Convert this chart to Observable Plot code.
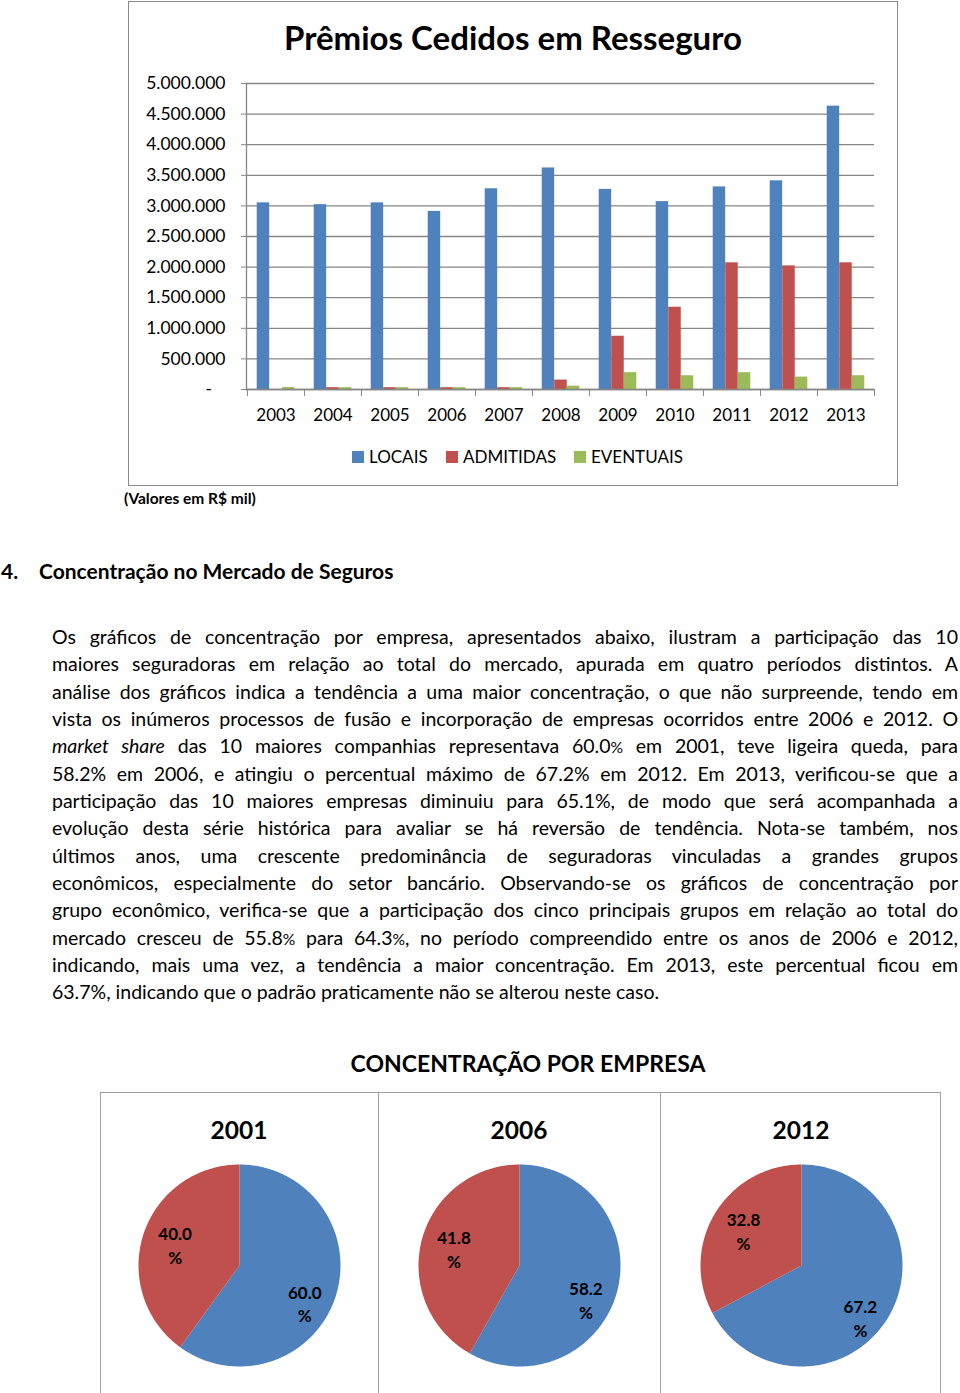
<!DOCTYPE html>
<html><head><meta charset="utf-8">
<script src="https://cdn.jsdelivr.net/npm/d3@7"></script>
<script src="https://cdn.jsdelivr.net/npm/@observablehq/plot@0.6"></script>
<style>
html,body{margin:0;padding:0;background:#fff;}
#page{position:relative;width:960px;height:1393px;overflow:hidden;font-family:Lato,"Open Sans",sans-serif;color:#000;}
.abs{position:absolute;}
#chartbox{left:128px;top:1px;width:770px;height:485px;border:1.5px solid #8a8a8a;box-sizing:border-box;}
#title{left:128px;width:770px;top:16px;text-align:center;font-weight:bold;font-size:33px;line-height:42px;}
.leg{top:447px;font-size:17px;line-height:20px;display:flex;align-items:center;}
.sw{width:12px;height:12px;margin-right:5px;display:inline-block;}
#valores{left:124px;top:488px;font-size:15.5px;font-weight:bold;line-height:20px;}
#sec{left:0;top:558px;font-size:21px;font-weight:bold;line-height:26px;white-space:nowrap;}
#body{left:52px;top:623px;width:906px;}
.ln{height:27.35px;line-height:27.35px;text-align:justify;text-align-last:justify;white-space:normal;overflow:visible;}
.ln.last{text-align-last:left;}
.sm{font-size:0.8em;}
#ctitle{left:0;width:1056px;top:1048px;text-align:center;font-weight:bold;font-size:23px;line-height:30px;}
.box{top:1092px;height:310px;border:1.6px solid #a0a0a0;box-sizing:border-box;}
.ptitle{top:1115px;width:278px;text-align:center;font-weight:bold;font-size:24.5px;line-height:30px;}
</style></head>
<body><div id="page">
<div id="chartbox" class="abs"></div>
<div id="title" class="abs">Prêmios Cedidos em Resseguro</div>
<div id="bars" class="abs" style="left:140px;top:60px;"></div>
<div id="legend"></div>
<div id="valores" class="abs">(Valores em R$ mil)</div>
<div id="sec" class="abs"><span style="display:inline-block;width:38px;padding-left:1px;">4.</span>Concentração no Mercado de Seguros</div>
<div id="body" class="abs"></div>
<div id="ctitle" class="abs">CONCENTRAÇÃO POR EMPRESA</div>
<div id="pies"></div>
</div>
<script>
// ---- Data: Prêmios Cedidos em Resseguro (R$ mil) ----
const years = ["2003","2004","2005","2006","2007","2008","2009","2010","2011","2012","2013"];
const seriesNames = ["LOCAIS","ADMITIDAS","EVENTUAIS"];
const locais    = [3050000,3020000,3050000,2910000,3280000,3620000,3270000,3070000,3310000,3410000,4630000];
const admitidas = [0,30000,30000,30000,30000,154000,870000,1345000,2070000,2020000,2070000];
const eventuais = [33000,30000,30000,30000,30000,55000,275000,225000,275000,203000,225000];
const yTicks = [0,500000,1000000,1500000,2000000,2500000,3000000,3500000,4000000,4500000,5000000];
const seriesColors = ["#4F81BD","#C0504D","#9BBB59"];

// ---- Data: Concentração por empresa ----
const pieYears = ["2001","2006","2012"];
const top10Share = [60.0, 58.2, 67.2];
const othersShare = [40.0, 41.8, 32.8];
const sliceNames = ["10 maiores","Demais"];

// ---- Text ----
const bodyLines = [
 "Os gráficos de concentração por empresa, apresentados abaixo, ilustram a participação das 10",
 "maiores seguradoras em relação ao total do mercado, apurada em quatro períodos distintos. A",
 "análise dos gráficos indica a tendência a uma maior concentração, o que não surpreende, tendo em",
 "vista os inúmeros processos de fusão e incorporação de empresas ocorridos entre 2006 e 2012. O",
 "<i>market share</i> das 10 maiores companhias representava 60.0<span class='sm'>%</span> em 2001, teve ligeira queda, para",
 "58.2% em 2006, e atingiu o percentual máximo de 67.2% em 2012. Em 2013, verificou-se que a",
 "participação das 10 maiores empresas diminuiu para 65.1%, de modo que será acompanhada a",
 "evolução desta série histórica para avaliar se há reversão de tendência. Nota-se também, nos",
 "últimos anos, uma crescente predominância de seguradoras vinculadas a grandes grupos",
 "econômicos, especialmente do setor bancário. Observando-se os gráficos de concentração por",
 "grupo econômico, verifica-se que a participação dos cinco principais grupos em relação ao total do",
 "mercado cresceu de 55.8<span class='sm'>%</span> para 64.3<span class='sm'>%</span>, no período compreendido entre os anos de 2006 e 2012,",
 "indicando, mais uma vez, a tendência a maior concentração. Em 2013, este percentual ficou em",
 "63.7%, indicando que o padrão praticamente não se alterou neste caso."
];

// ---- Bar chart ----
const rows = [];
years.forEach((y,i)=>{
  rows.push({year:y, series:"LOCAIS", value:locais[i]});
  rows.push({year:y, series:"ADMITIDAS", value:admitidas[i]});
  rows.push({year:y, series:"EVENTUAIS", value:eventuais[i]});
});
const W = 750, H = 380, mL = 106, mR = 16, mT = 23, mB = 51;
const step = (W - mL - mR) / years.length;
const gap = step * 0.17;
const bw = (step - 2*gap) / 3;
const fmt = d => d === 0 ? "-\u00a0\u00a0\u00a0" : d3.format(",")(d).replace(/,/g, ".");
const gray = "#868686";
const barMarks = seriesNames.map((s,i) => Plot.barY(rows.filter(r=>r.series===s), {
  x:"year", y:"value", fill: seriesColors[i],
  insetLeft: gap + i*bw, insetRight: step - gap - (i+1)*bw
}));
const barChart = Plot.plot({
  width: W, height: H, marginLeft: mL, marginRight: mR, marginTop: mT, marginBottom: mB,
  style: {fontFamily: "Lato, 'Open Sans', sans-serif", fontSize: "17px", color: "#000", background: "transparent"},
  x: {type: "band", domain: years, padding: 0, label: null},
  y: {domain: [0, 5000000], label: null},
  marks: [
    Plot.gridY(yTicks, {stroke: gray, strokeOpacity: 1, strokeWidth: 1.3}),
    Plot.axisY({ticks: yTicks, tickSize: 5, tickPadding: 16, tickFormat: fmt, stroke: gray, fill: "#000", label: null, fontSize: 17.5}),
    Plot.frame({anchor: "left", stroke: gray, strokeWidth: 1.3}),
    ...barMarks,
    Plot.ruleY([0], {stroke: gray, strokeWidth: 1.3}),
    Plot.axisX({tickSize: 7, tickFormat: () => "", dx: -step/2, stroke: gray, label: null}),
    Plot.axisX({ticks: [years[years.length-1]], tickSize: 7, tickFormat: () => "", dx: step/2, stroke: gray, label: null}),
    Plot.axisX({tickSize: 0, tickPadding: 19, label: null, fontSize: 17, fill: "#000"})
  ]
});
document.getElementById("bars").appendChild(barChart);

// legend
const legLefts = [352, 446, 574];
const legend = document.getElementById("legend");
seriesNames.forEach((s,i)=>{
  const d = document.createElement("div");
  d.className = "abs leg";
  d.style.left = legLefts[i] + "px";
  d.innerHTML = `<span class="sw" style="background:${seriesColors[i]}"></span>${s}`;
  legend.appendChild(d);
});

// ---- Body text ----
const body = document.getElementById("body");
bodyLines.forEach((t,i)=>{
  const d = document.createElement("div");
  d.className = "ln" + (i === bodyLines.length-1 ? " last" : "");
  d.innerHTML = t;
  body.appendChild(d);
});
(function(){
  let fs = 19.5;
  const probe = document.createElement("span");
  probe.style.cssText = "position:absolute;visibility:hidden;white-space:nowrap;font-family:Lato,'Open Sans',sans-serif;";
  document.body.appendChild(probe);
  let maxW = 0;
  bodyLines.forEach(t=>{ probe.style.fontSize = fs+"px"; probe.innerHTML = t; maxW = Math.max(maxW, probe.getBoundingClientRect().width); });
  probe.remove();
  if (maxW > 900) fs = fs * 900 / maxW;
  body.style.fontSize = fs + "px";
})();

// ---- Pies ----
const pies = document.getElementById("pies");
const boxLefts = [100, 378, 660];
const boxWidths = [279, 283, 281];
const pieCx = [239, 519, 801];
const pieCy = 1265;
const R = 101;
pieYears.forEach((yr, i) => {
  const box = document.createElement("div");
  box.className = "abs box";
  box.style.left = boxLefts[i] + "px";
  box.style.width = boxWidths[i] + "px";
  pies.appendChild(box);
  const tt = document.createElement("div");
  tt.className = "abs ptitle";
  tt.style.left = (pieCx[i] - 139) + "px";
  tt.textContent = yr;
  pies.appendChild(tt);

  const vals = [top10Share[i], othersShare[i]];
  const pts = [], labels = [];
  let start = 0;
  vals.forEach((v, j) => {
    const a0 = start / 100 * 2 * Math.PI, a1 = (start + v) / 100 * 2 * Math.PI;
    const N = Math.max(2, Math.ceil(v * 3.6));
    pts.push({slice: sliceNames[j], x: 0, y: 0});
    for (let k = 0; k <= N; k++) {
      const a = a0 + (a1 - a0) * k / N;
      pts.push({slice: sliceNames[j], x: Math.sin(a), y: Math.cos(a)});
    }
    pts.push({slice: sliceNames[j], x: 0, y: 0});
    const am = (a0 + a1) / 2;
    const rr = j === 0 ? 0.68 : 0.67;
    labels.push({x: Math.sin(am) * rr, y: Math.cos(am) * rr - (j===0 ? 0.16 : 0), text: v.toFixed(1) + "\n%"});
    start += v;
  });
  const m = 19;
  const p = Plot.plot({
    width: 2*R + 2*m, height: 2*R + 2*m, margin: m,
    style: {fontFamily: "Lato, 'Open Sans', sans-serif", background: "transparent", overflow: "visible"},
    x: {domain: [-1, 1], axis: null},
    y: {domain: [-1, 1], axis: null},
    color: {domain: sliceNames, range: ["#4F81BD", "#C0504D"]},
    marks: [
      Plot.line(pts, {x: "x", y: "y", z: "slice", fill: "slice", stroke: "none"}),
      Plot.text(labels, {x: "x", y: "y", text: "text", fontWeight: "bold", fontSize: 17, lineHeight: 1.4, fill: "#000"})
    ]
  });
  const holder = document.createElement("div");
  holder.className = "abs";
  holder.style.left = (pieCx[i] - R - m) + "px";
  holder.style.top = (pieCy - R - m) + "px";
  holder.appendChild(p);
  pies.appendChild(holder);
});
</script>
</body></html>
